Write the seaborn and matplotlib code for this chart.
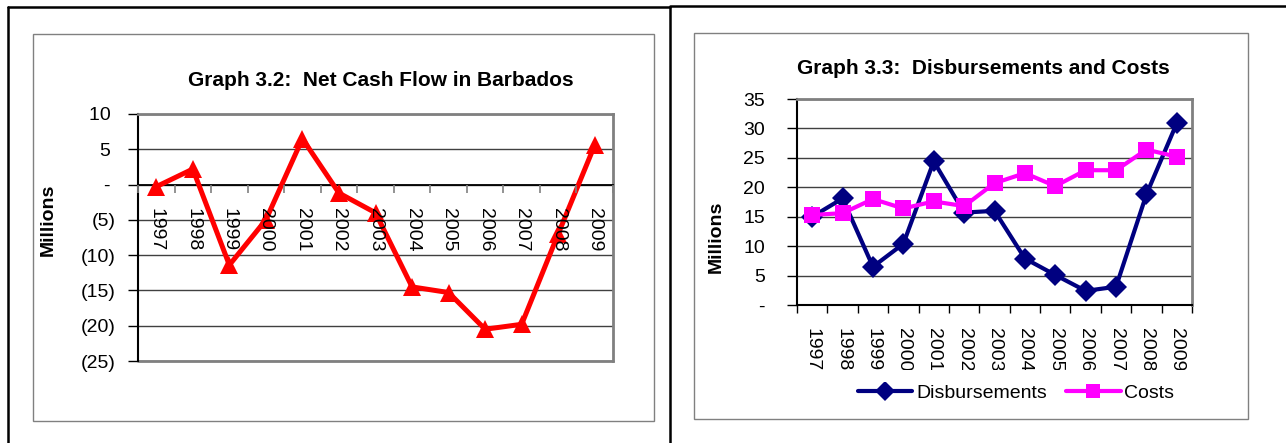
import numpy as np
import pandas as pd
import matplotlib
matplotlib.use('Agg')
import matplotlib.pyplot as plt
import seaborn as sns
from matplotlib.ticker import FixedLocator, FuncFormatter, NullFormatter
from matplotlib.lines import Line2D
from matplotlib.patches import Rectangle

# values (millions)
years = [str(y) for y in range(1997, 2010)]
net_cash_flow = [-0.3, 2.2, -11.4, -5.0, 6.5, -1.2, -4.0, -14.5, -15.3, -20.5, -19.8, -7.0, 5.6]
disbursements = [15.0, 18.1, 6.5, 10.4, 24.4, 15.7, 16.0, 7.9, 5.1, 2.4, 3.1, 18.8, 30.9]
costs = [15.3, 15.6, 18.0, 16.4, 17.6, 16.8, 20.7, 22.4, 20.2, 22.9, 22.9, 26.4, 25.2]

left_ticks = [10, 5, 0, -5, -10, -15, -20, -25]
right_ticks = [35, 30, 25, 20, 15, 10, 5, 0]

sns.set_style('ticks')
plt.rcParams['font.family'] = ['Liberation Sans', 'DejaVu Sans']
plt.rcParams.update({'text.color': 'black', 'xtick.color': 'black',
                     'ytick.color': 'black', 'axes.labelcolor': 'black'})

W, H = 1286, 443
fig = plt.figure(figsize=(W / 100, H / 100), dpi=100)
fig.patch.set_facecolor('white')


def px_axes(x0, y0, x1, y1):
    return fig.add_axes([x0 / W, 1 - y1 / H, (x1 - x0) / W, (y1 - y0) / H])


def fig_line(xs, ys, **kw):
    fig.add_artist(Line2D([x / W for x in xs], [1 - y / H for y in ys],
                          transform=fig.transFigure, **kw))


def fig_box(x0, y0, x1, y1, **kw):
    fig.add_artist(Rectangle((x0 / W, 1 - y1 / H), (x1 - x0) / W, (y1 - y0) / H,
                             transform=fig.transFigure, **kw))


def acct(v, pos=None):
    if v == 0:
        return '- '
    if v < 0:
        return '(%d)' % abs(v)
    return '%d ' % v


# page borders
fig_line([8, 670], [7, 7], color='black', lw=1.8)
fig_line([8, 8], [7, 443], color='black', lw=1.8)
fig_line([670, 670], [7, 443], color='black', lw=1.8)
fig_line([670, 1286], [6, 6], color='black', lw=1.8)
fig_box(33, 34, 654, 421, fill=False, ec='#808080', lw=1)
fig_box(694, 33, 1248, 419, fill=False, ec='#808080', lw=1)

pos = np.arange(len(years))

# ---- Graph 3.2 ----
ax1 = px_axes(138, 114, 613, 361)
ax1.spines['bottom'].set_position(('data', 0))
df1 = pd.DataFrame({'pos': pos, 'value': net_cash_flow})
sns.lineplot(data=df1, x='pos', y='value', ax=ax1, color='#FF0000', lw=3.6,
             marker='^', markersize=13, mew=0, zorder=3)
ax1.set_xlim(-0.5, 12.5)
ax1.set_ylim(-25, 10)
ax1.set_xlabel('')
ax1.set_ylabel('')
ax1.set_yticks(left_ticks)
ax1.yaxis.set_major_formatter(FuncFormatter(acct))
ax1.yaxis.grid(True, color='#404040', lw=1)
ax1.set_axisbelow(True)
ax1.xaxis.set_zorder(4)  # year labels sit on top of the red line
ax1.xaxis.set_major_locator(FixedLocator(np.arange(-0.5, 13, 1)))
ax1.xaxis.set_major_formatter(NullFormatter())
ax1.xaxis.set_minor_locator(FixedLocator(pos))
ax1.set_xticklabels(years, minor=True)
ax1.tick_params(axis='x', which='major', direction='out', length=6,
                color='#808080', width=1.2, bottom=True)
ax1.tick_params(axis='x', which='minor', length=0, pad=17, labelsize=14,
                bottom=True, labelrotation=270)
ax1.tick_params(axis='y', direction='out', length=7, width=1, left=True,
                pad=9, labelsize=14)
ax1.spines['bottom'].set_color('black')
ax1.spines['bottom'].set_linewidth(1.3)
for s in ['top', 'right']:
    ax1.spines[s].set_visible(True)
    ax1.spines[s].set_color('#808080')
    ax1.spines[s].set_linewidth(2)
ax1.spines['left'].set_color('black')
ax1.spines['left'].set_linewidth(1.5)
ax1.axhline(-25, color='#808080', lw=2, clip_on=False)

fig.text(381 / W, 1 - 80 / H, 'Graph 3.2:  Net Cash Flow in Barbados',
         ha='center', va='center', fontsize=15, fontweight='bold')
fig.text(48 / W, 1 - 220 / H, 'Millions', rotation=90, ha='center', va='center',
         fontsize=14, fontweight='bold')

# ---- Graph 3.3 ----
ax2 = px_axes(797, 99, 1192, 305)
df2 = pd.DataFrame({'pos': pos, 'Disbursements': disbursements, 'Costs': costs})
long = df2.melt(id_vars='pos', var_name='series', value_name='value')
sns.lineplot(data=long, x='pos', y='value', hue='series', style='series', ax=ax2,
             palette={'Disbursements': '#000080', 'Costs': '#FF00FF'},
             markers={'Disbursements': 'D', 'Costs': 's'}, dashes=False,
             lw=3, markersize=11, mew=0, legend=False, zorder=3)
ax2.set_xlim(-0.5, 12.5)
ax2.set_ylim(0, 35)
ax2.set_xlabel('')
ax2.set_ylabel('')
ax2.set_yticks(right_ticks)
ax2.yaxis.set_major_formatter(FuncFormatter(lambda v, p: '-' if v == 0 else '%d' % v))
ax2.yaxis.grid(True, color='#404040', lw=1)
ax2.set_axisbelow(True)
ax2.xaxis.set_major_locator(FixedLocator(np.arange(-0.5, 13, 1)))
ax2.xaxis.set_major_formatter(NullFormatter())
ax2.xaxis.set_minor_locator(FixedLocator(pos))
ax2.set_xticklabels(years, minor=True)
ax2.tick_params(axis='x', which='major', direction='out', length=6,
                color='black', width=1, bottom=True)
ax2.tick_params(axis='x', which='minor', length=0, pad=16.5, labelsize=14,
                bottom=True, labelrotation=270)
ax2.tick_params(axis='y', direction='out', length=7, width=1, left=True,
                pad=16, labelsize=14)
for s in ['top', 'right']:
    ax2.spines[s].set_visible(True)
    ax2.spines[s].set_color('#808080')
    ax2.spines[s].set_linewidth(2)
for s in ['left', 'bottom']:
    ax2.spines[s].set_color('black')
    ax2.spines[s].set_linewidth(1.5)

# the year labels are cut off in the reference: mask their lower ends
fig_box(790, 370, 1200, 382, fill=True, fc='white', ec='none', zorder=5)

handles = [Line2D([], [], color='#000080', lw=3, marker='D', markersize=10, mew=0),
           Line2D([], [], color='#FF00FF', lw=3, marker='s', markersize=10, mew=0)]
ax2.legend(handles, ['Disbursements', 'Costs'], loc='center',
           bbox_to_anchor=(1016 / W, 1 - 393 / H), bbox_transform=fig.transFigure,
           ncol=2, frameon=False, fontsize=14, handlelength=2.8,
           handletextpad=0.2, columnspacing=1.0, borderpad=0)

fig.text(983 / W, 1 - 69 / H, 'Graph 3.3:  Disbursements and Costs',
         ha='center', va='center', fontsize=15, fontweight='bold')
fig.text(716 / W, 1 - 237 / H, 'Millions', rotation=90, ha='center', va='center',
         fontsize=14, fontweight='bold')

fig.savefig('out.png', dpi=100)
